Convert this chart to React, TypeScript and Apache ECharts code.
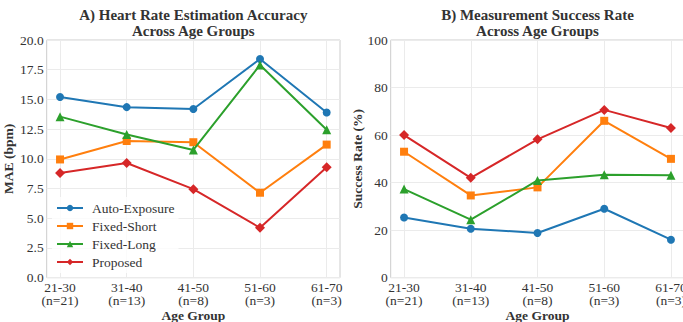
import React, { useEffect, useRef } from "react";
import * as echarts from "echarts";

const ageGroups = ["21-30\n(n=21)", "31-40\n(n=13)", "41-50\n(n=8)", "51-60\n(n=3)", "61-70\n(n=3)"];
const seriesNames = ["Auto-Exposure", "Fixed-Short", "Fixed-Long", "Proposed"];
const colors = ["#1f77b4", "#ff7f0e", "#2ca02c", "#d62728"];
const symbols = ["circle", "rect", "triangle", "diamond"];

const maeAuto = [15.2, 14.35, 14.2, 18.4, 13.9];
const maeShort = [9.95, 11.5, 11.4, 7.15, 11.2];
const maeLong = [13.55, 12.05, 10.75, 17.9, 12.45];
const maeProposed = [8.8, 9.65, 7.45, 4.2, 9.3];

const srAuto = [25.3, 20.6, 18.8, 29.0, 16.0];
const srShort = [53.0, 34.6, 38.0, 66.0, 50.0];
const srLong = [37.3, 24.4, 40.9, 43.3, 43.1];
const srProposed = [60.0, 42.0, 58.2, 70.6, 63.0];

const maeTicks = { min: 0, max: 20, interval: 2.5 };
const srTicks = { min: 0, max: 100, interval: 20 };

const FONT = "'Liberation Serif', 'DejaVu Serif', serif";

export default function App() {
  const ref = useRef<HTMLDivElement>(null);
  useEffect(() => {
    if (!ref.current) return;
    const chart = echarts.init(ref.current, null, { renderer: "svg" });
    const maeData = [maeAuto, maeShort, maeLong, maeProposed];
    const srData = [srAuto, srShort, srLong, srProposed];
    const idx = ageGroups.map((_, i) => i);

    const xAxisBase = (gridIndex: number) => ({
      type: "value",
      gridIndex,
      min: -0.2,
      max: 4.2,
      name: "Age Group",
      nameLocation: "middle",
      nameGap: 30.5,
      nameMoveOverlap: false,
      nameTextStyle: { fontFamily: FONT, fontWeight: "bold", fontSize: 13.5, color: "#333", lineHeight: 14 },
      axisLine: { show: false },
      axisTick: { show: false, customValues: idx },
      axisLabel: {
        customValues: idx,
        formatter: (v: number) => ageGroups[Math.round(v)] ?? "",
        fontFamily: FONT,
        fontSize: 13.5,
        color: "#333",
        lineHeight: 13.5,
        margin: 3,
        showMinLabel: true,
        showMaxLabel: true,
        hideOverlap: false,
      },
      splitLine: { show: true, lineStyle: { color: "#ebebeb", width: 1 } },
    });

    const makeSeries = (data: number[][], xi: number) =>
      data.map((vals, s) => ({
        type: "line",
        name: seriesNames[s],
        xAxisIndex: xi,
        yAxisIndex: xi,
        data: vals.map((v, i) => [idx[i], v]),
        symbol: symbols[s],
        symbolSize: s === 3 ? 10 : s === 2 ? 9 : 8,
        showAllSymbol: true,
        lineStyle: { color: colors[s], width: 2 },
        itemStyle: { color: colors[s] },
        emphasis: { disabled: true },
        z: 2 + s,
      }));

    chart.setOption({
      animation: false,
      backgroundColor: "#ffffff",
      textStyle: { fontFamily: FONT },
      grid: [
        { left: 46.7, top: 40, width: 293.3, height: 237.7, show: true, borderColor: "#cccccc", borderWidth: 1, containLabel: false, outerBoundsMode: "none" },
        { left: 390.7, top: 40, width: 293.6, height: 237.7, show: true, borderColor: "#cccccc", borderWidth: 1, containLabel: false, outerBoundsMode: "none" },
      ],
      xAxis: [xAxisBase(0), xAxisBase(1)],
      yAxis: [
        {
          type: "value",
          gridIndex: 0,
          ...maeTicks,
          name: "MAE (bpm)",
          nameLocation: "middle",
          nameGap: 31,
          nameMoveOverlap: false,
          nameTextStyle: { fontFamily: FONT, fontWeight: "bold", fontSize: 13.5, color: "#333" },
          axisLine: { show: false },
          axisTick: { show: false },
          axisLabel: { formatter: (v: number) => v.toFixed(1), fontFamily: FONT, fontSize: 13.5, color: "#333", margin: 3 },
          splitLine: { show: true, lineStyle: { color: "#ebebeb", width: 1 } },
        },
        {
          type: "value",
          gridIndex: 1,
          ...srTicks,
          name: "Success Rate (%)",
          nameLocation: "middle",
          nameGap: 26,
          nameMoveOverlap: false,
          nameTextStyle: { fontFamily: FONT, fontWeight: "bold", fontSize: 13.5, color: "#333" },
          axisLine: { show: false },
          axisTick: { show: false },
          axisLabel: { fontFamily: FONT, fontSize: 13.5, color: "#333", margin: 3 },
          splitLine: { show: true, lineStyle: { color: "#ebebeb", width: 1 } },
        },
      ],
      legend: {
        data: seriesNames,
        orient: "vertical",
        left: 52,
        top: 197,
        itemWidth: 26,
        itemHeight: 8,
        itemGap: 4,
        textStyle: { fontFamily: FONT, fontSize: 13.5, color: "#333", padding: [0, 0, 0, 4] },
        backgroundColor: "rgba(255,255,255,0.8)",
        borderWidth: 0,
        padding: [4, 4, 4, 4],
      },
      graphic: [
        {
          type: "text",
          x: 193.3,
          y: 7,
          style: {
            text: "A) Heart Rate Estimation Accuracy\nAcross Age Groups",
            textAlign: "center",
            fontFamily: FONT,
            fontWeight: "bold",
            fontSize: 15,
            lineHeight: 16,
            fill: "#333",
          },
        },
        {
          type: "text",
          x: 537.5,
          y: 7,
          style: {
            text: "B) Measurement Success Rate\nAcross Age Groups",
            textAlign: "center",
            fontFamily: FONT,
            fontWeight: "bold",
            fontSize: 15,
            lineHeight: 16,
            fill: "#333",
          },
        },
      ],
      series: [...makeSeries(maeData, 0), ...makeSeries(srData, 1)],
    });
    return () => chart.dispose();
  }, []);
  return <div ref={ref} style={{ position: "absolute", left: 0, top: 0, width: 683, height: 322 }} />;
}
